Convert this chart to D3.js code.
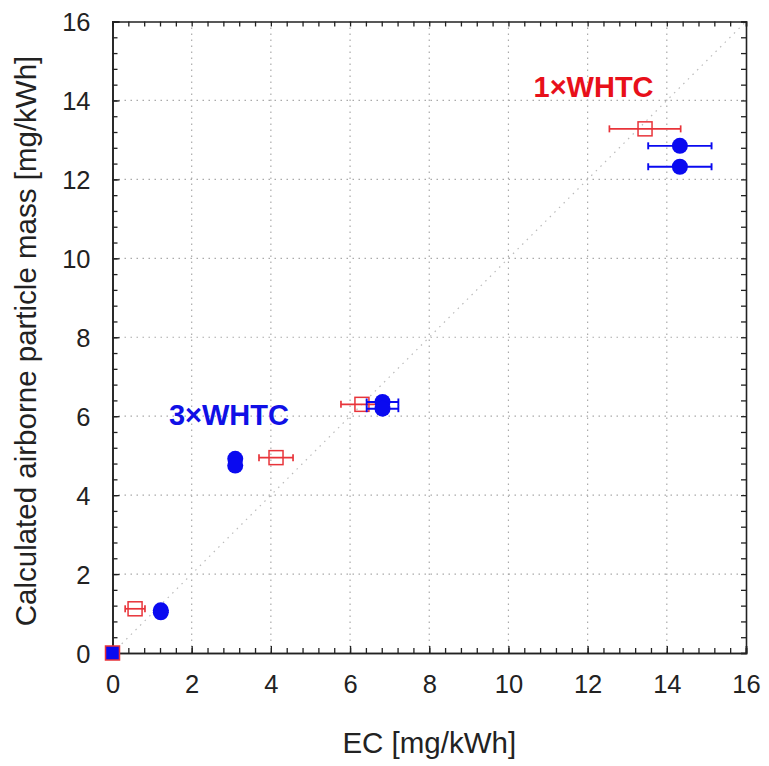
<!DOCTYPE html>
<html>
<head>
<meta charset="utf-8">
<script src="https://cdn.jsdelivr.net/npm/d3@7"></script>
<style>
	body { margin:0; background:#fff; }
	svg { display:block; font-family:"Liberation Sans", Arial, sans-serif; }
</style>
</head>
<body>
<svg id="chart"></svg>
<script>
// 1xWHTC / 3xWHTC : EC vs calculated airborne particle mass
let _width = 769
let _height = 766
let _margin = {top:21.5, right:23, bottom:113, left:112.5}

// red open squares (with x error)
let redX   = [0, 0.57, 4.13, 6.30, 13.45]
let redY   = [0, 1.12, 4.95, 6.30, 13.28]
let redErr = [0, 0.25, 0.43, 0.53, 0.90]

// blue filled circles (with x error)
let blueX   = [0, 1.22, 1.22, 3.10, 3.10, 6.82, 6.82, 14.33, 14.33]
let blueY   = [0, 1.08, 1.03, 4.92, 4.75, 6.36, 6.19, 12.85, 12.32]
let blueErr = [0, 0, 0, 0.03, 0.03, 0.40, 0.40, 0.80, 0.80]

let ticks = [0,2,4,6,8,10,12,14,16]
let minorTicks = d3.range(0, 16.01, 0.4)

let labels = [
	{text:'1×WHTC', x:12.15, y:14.08, col:'#e8101a'},
	{text:'3×WHTC', x:2.94, y:5.77, col:'#1010e6'}
]

const red = '#e8343a'
const blue = '#0a0af0'

const w = _width - _margin.left - _margin.right
const h = _height - _margin.top - _margin.bottom

const x = d3.scaleLinear().domain([0,16]).range([0,w])
const y = d3.scaleLinear().domain([0,16]).range([h,0])

const svg = d3.select('#chart')
	.attr('width', _width)
	.attr('height', _height)

const g = svg.append('g')
	.attr('transform', `translate(${_margin.left},${_margin.top})`)

// grid
g.append('g')
	.selectAll('line')
	.data(ticks.slice(1,-1))
	.enter()
	.append('line')
	.attr('x1', d => x(d)).attr('x2', d => x(d))
	.attr('y1', 0).attr('y2', h)
	.attr('stroke', '#aaa')
	.attr('stroke-width', 1.2)
	.attr('stroke-dasharray', '1.5,4.5')

g.append('g')
	.selectAll('line')
	.data(ticks.slice(1,-1))
	.enter()
	.append('line')
	.attr('y1', d => y(d)).attr('y2', d => y(d))
	.attr('x1', 0).attr('x2', w)
	.attr('stroke', '#aaa')
	.attr('stroke-width', 1.2)
	.attr('stroke-dasharray', '1.5,4.5')

// 1:1 line
g.append('line')
	.attr('x1', x(0)).attr('y1', y(0))
	.attr('x2', x(16)).attr('y2', y(16))
	.attr('stroke', '#bbb')
	.attr('stroke-width', 1.2)
	.attr('stroke-dasharray', '1.5,5')

// axes (ticks inward, on all four sides)
const fmt = d3.format('d')
const axBottom = g.append('g')
	.attr('transform', `translate(0,${h})`)
	.call(d3.axisBottom(x).tickValues(minorTicks).tickSize(-5).tickFormat(''))
const axBottomMajor = g.append('g')
	.attr('transform', `translate(0,${h})`)
	.call(d3.axisBottom(x).tickValues(ticks).tickSize(-7).tickPadding(22).tickFormat(fmt))
const axTop = g.append('g')
	.call(d3.axisTop(x).tickValues(minorTicks).tickSize(-5).tickFormat(''))
const axLeft = g.append('g')
	.call(d3.axisLeft(y).tickValues(minorTicks).tickSize(-5).tickFormat(''))
const axLeftMajor = g.append('g')
	.call(d3.axisLeft(y).tickValues(ticks).tickSize(-7).tickPadding(22).tickFormat(fmt))
const axRight = g.append('g')
	.attr('transform', `translate(${w},0)`)
	.call(d3.axisRight(y).tickValues(minorTicks).tickSize(-5).tickFormat(''))

g.selectAll('.domain').attr('stroke', '#222').attr('stroke-width', 1.6)
g.selectAll('.tick line').attr('stroke', '#222').attr('stroke-width', 1.3)
g.selectAll('.tick text')
	.attr('font-size', 25.5)
	.attr('font-family', '"Liberation Sans", Arial, sans-serif')
	.attr('fill', '#222')
axBottomMajor.selectAll('.tick text').attr('dy', '0.71em')
axLeftMajor.selectAll('.tick text').attr('dy', '0.36em')

// red squares with error bars
const redData = redX.map((d,i) => ({x:d, y:redY[i], e:redErr[i]}))
const reds = g.append('g')
	.selectAll('.red')
	.data(redData)
	.enter()
	.append('g')
	.classed('red', true)

reds.filter(d => d.e > 0).append('line')
	.attr('x1', d => x(d.x - d.e)).attr('x2', d => x(d.x + d.e))
	.attr('y1', d => y(d.y)).attr('y2', d => y(d.y))
	.attr('stroke', red).attr('stroke-width', 1.7)
reds.filter(d => d.e > 0).selectAll('.cap')
	.data(d => [[d.x - d.e, d.y], [d.x + d.e, d.y]])
	.enter()
	.append('line')
	.attr('x1', d => x(d[0])).attr('x2', d => x(d[0]))
	.attr('y1', d => y(d[1]) - 3.5).attr('y2', d => y(d[1]) + 3.5)
	.attr('stroke', red).attr('stroke-width', 1.7)
reds.append('rect')
	.attr('x', d => x(d.x) - 7)
	.attr('y', d => y(d.y) - 7)
	.attr('width', 14).attr('height', 14)
	.attr('fill', d => d.x == 0 ? blue : 'none')
	.attr('stroke', red).attr('stroke-width', 1.5)

// blue circles with error bars
const blueData = blueX.map((d,i) => ({x:d, y:blueY[i], e:blueErr[i]}))
const blues = g.append('g')
	.selectAll('.blue')
	.data(blueData)
	.enter()
	.append('g')
	.classed('blue', true)

blues.filter(d => d.e > 0.1).append('line')
	.attr('x1', d => x(d.x - d.e)).attr('x2', d => x(d.x + d.e))
	.attr('y1', d => y(d.y)).attr('y2', d => y(d.y))
	.attr('stroke', blue).attr('stroke-width', 1.9)
blues.filter(d => d.e > 0.1).selectAll('.cap')
	.data(d => [[d.x - d.e, d.y], [d.x + d.e, d.y]])
	.enter()
	.append('line')
	.attr('x1', d => x(d[0])).attr('x2', d => x(d[0]))
	.attr('y1', d => y(d[1]) - 3.5).attr('y2', d => y(d[1]) + 3.5)
	.attr('stroke', blue).attr('stroke-width', 1.9)
blues.filter(d => d.x > 0).append('circle')
	.attr('cx', d => x(d.x))
	.attr('cy', d => y(d.y))
	.attr('r', 8)
	.attr('fill', blue)

// labels
g.selectAll('.lab')
	.data(labels)
	.enter()
	.append('text')
	.classed('lab', true)
	.attr('x', d => x(d.x))
	.attr('y', d => y(d.y))
	.attr('text-anchor', 'middle')
	.attr('font-size', 29)
	.attr('font-weight', 'bold')
	.attr('fill', d => d.col)
	.text(d => d.text)

// axis titles
svg.append('text')
	.attr('x', _margin.left + w / 2)
	.attr('y', 753)
	.attr('text-anchor', 'middle')
	.attr('font-size', 29.5)
	.attr('fill', '#222')
	.text('EC [mg/kWh]')

svg.append('text')
	.attr('transform', `translate(36,341) rotate(-90)`)
	.attr('text-anchor', 'middle')
	.attr('font-size', 29.5)
	.attr('fill', '#222')
	.text('Calculated airborne particle mass [mg/kWh]')
</script>
</body>
</html>
